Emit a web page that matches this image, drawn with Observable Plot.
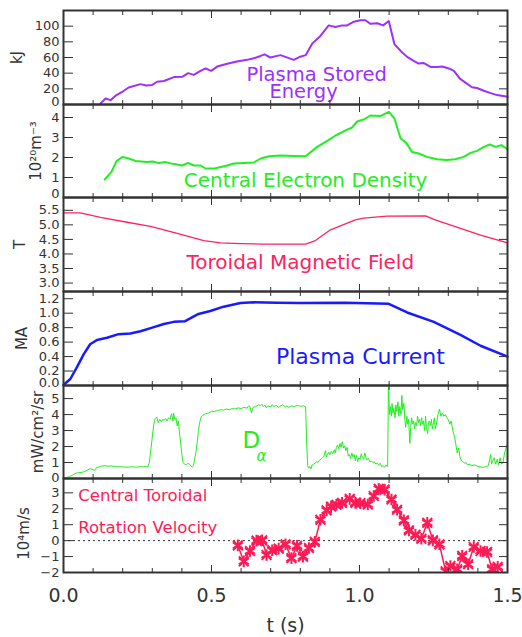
<!DOCTYPE html>
<html><head><meta charset="utf-8">
<script src="https://cdn.jsdelivr.net/npm/d3@7"></script>
<script src="https://cdn.jsdelivr.net/npm/@observablehq/plot@0.6"></script>
<style>
body{margin:0;background:#fff;}
#chart{position:relative;width:522px;height:637px;font-family:"DejaVu Sans",sans-serif;}
#chart svg{position:absolute;left:0;overflow:visible;}
</style></head><body><div id="chart"></div>
<script>
// ---- data (t in s, value) ----
const energy = [[0.123,0.5],[0.142,7.6],[0.159,5.6],[0.179,12],[0.198,16],[0.22,21.7],[0.26,26],[0.28,24.2],[0.30,25],[0.316,29],[0.339,30],[0.373,35],[0.401,35.3],[0.421,40],[0.44,37.8],[0.463,43],[0.48,46],[0.499,43],[0.519,48.4],[0.553,52],[0.586,55],[0.62,57],[0.643,59],[0.666,62],[0.679,64],[0.699,60],[0.733,63],[0.778,57],[0.80,61],[0.818,63],[0.84,77.7],[0.868,87.5],[0.896,101],[0.919,99],[0.941,101],[0.958,101],[0.981,105.7],[1.003,107.5],[1.02,107.5],[1.037,103],[1.06,103.7],[1.08,101],[1.099,106.6],[1.118,77],[1.139,68.4],[1.161,60.8],[1.183,55.7],[1.20,52.2],[1.216,53],[1.24,48],[1.263,48],[1.279,48.4],[1.302,46],[1.319,43],[1.339,33],[1.358,28],[1.38,22],[1.397,21],[1.42,17.5],[1.443,14.5],[1.465,12],[1.5,9.8]];
const density = [[0.139,0.9],[0.162,1.28],[0.179,1.82],[0.20,2.03],[0.22,1.95],[0.243,1.83],[0.283,1.78],[0.30,1.8],[0.322,1.73],[0.345,1.77],[0.373,1.67],[0.401,1.6],[0.421,1.73],[0.44,1.6],[0.463,1.6],[0.48,1.45],[0.51,1.45],[0.553,1.6],[0.575,1.7],[0.609,1.72],[0.643,1.75],[0.666,1.95],[0.694,2.06],[0.733,2.1],[0.778,2.08],[0.818,2.06],[0.857,2.53],[0.891,2.83],[0.919,3.1],[0.953,3.36],[0.975,3.5],[0.992,3.8],[1.014,3.9],[1.037,4.1],[1.07,4.07],[1.099,4.28],[1.118,3.95],[1.139,2.95],[1.158,2.73],[1.178,2.27],[1.20,2.2],[1.228,2.03],[1.262,1.91],[1.295,1.87],[1.323,1.91],[1.352,2.03],[1.375,2.23],[1.397,2.33],[1.42,2.53],[1.44,2.65],[1.46,2.53],[1.479,2.62],[1.5,2.42]];
const field = [[0,5.41],[0.057,5.41],[0.125,5.26],[0.215,5.09],[0.294,4.95],[0.384,4.71],[0.474,4.46],[0.53,4.38],[0.598,4.355],[0.666,4.34],[0.818,4.34],[0.851,4.46],[0.902,4.83],[0.986,5.17],[1.014,5.23],[1.093,5.30],[1.223,5.31],[1.251,5.19],[1.341,4.88],[1.409,4.65],[1.5,4.38]];
const current = [[0,0.007],[0.023,0.09],[0.045,0.25],[0.068,0.43],[0.09,0.57],[0.113,0.63],[0.147,0.66],[0.186,0.71],[0.226,0.72],[0.26,0.75],[0.30,0.80],[0.339,0.85],[0.373,0.88],[0.411,0.89],[0.456,0.99],[0.496,1.03],[0.541,1.09],[0.598,1.14],[0.643,1.15],[0.72,1.145],[0.8,1.14],[0.95,1.145],[1.099,1.13],[1.161,1.01],[1.251,0.88],[1.341,0.70],[1.409,0.55],[1.5,0.40]];
const dalpha = [[0,0.06],[0.01,0.05],[0.02,0.12],[0.03,0.2],[0.04,0.32],[0.05,0.36],[0.06,0.38],[0.07,0.42],[0.08,0.52],[0.09,0.62],[0.10,0.55],[0.105,0.5],[0.11,0.65],[0.12,0.72],[0.13,0.78],[0.14,0.8],[0.15,0.77],[0.16,0.79],[0.17,0.75],[0.18,0.73],[0.19,0.74],[0.20,0.72],[0.21,0.72],[0.22,0.71],[0.23,0.73],[0.24,0.72],[0.25,0.72],[0.26,0.74],[0.27,0.73],[0.28,0.75],[0.285,0.72],
[0.29,1.0],[0.295,1.8],[0.30,2.6],[0.305,3.4],[0.31,3.75],[0.315,3.85],[0.32,3.5],[0.325,3.7],[0.33,3.55],[0.335,3.7],[0.34,3.65],[0.345,3.75],[0.35,3.6],[0.355,3.8],[0.36,3.7],[0.365,4.05],[0.37,3.6],[0.372,4.1],[0.376,3.7],[0.38,3.8],[0.384,3.3],[0.388,3.6],[0.392,2.8],[0.396,2.2],[0.40,1.5],[0.404,1.0],[0.41,0.88],[0.415,0.85],[0.42,0.95],[0.425,0.9],[0.43,0.8],[0.435,0.7],[0.438,0.75],[0.442,1.1],[0.447,1.6],[0.452,2.3],[0.456,3.0],[0.46,3.5],[0.465,3.85],[0.47,3.95],[0.48,4.05],[0.49,4.1],[0.50,4.2],[0.51,4.2],[0.52,4.25],[0.53,4.3],[0.54,4.28],[0.55,4.35],[0.56,4.3],[0.57,4.38],[0.58,4.35],[0.59,4.42],[0.60,4.38],[0.61,4.45],[0.62,4.4],[0.625,4.55],[0.63,4.5],[0.635,4.1],[0.64,4.45],[0.65,4.5],[0.66,4.62],[0.665,4.55],[0.67,4.65],[0.675,4.5],[0.68,4.6],[0.685,4.42],[0.69,4.55],[0.70,4.48],[0.705,4.62],[0.71,4.5],[0.72,4.58],[0.725,4.45],[0.73,4.52],[0.74,4.6],[0.75,4.48],[0.755,4.55],[0.76,4.45],[0.77,4.55],[0.78,4.5],[0.79,4.58],[0.80,4.52],[0.81,4.55],[0.818,4.48],
[0.822,2.0],[0.825,0.8],[0.828,0.65],[0.832,0.75],[0.836,0.6],[0.84,0.85],[0.845,0.9],[0.85,0.95],[0.855,1.05],[0.86,1.0],[0.865,1.15],[0.87,1.2],[0.875,1.3],[0.88,1.4],[0.885,1.75],[0.888,1.35],[0.892,1.5],[0.896,1.65],[0.90,1.5],[0.905,1.7],[0.91,1.55],[0.915,1.8],[0.918,1.6],[0.922,1.95],[0.926,2.1],[0.93,1.85],[0.934,2.2],[0.938,1.95],[0.942,2.3],[0.946,1.9],[0.95,2.05],[0.954,1.75],[0.958,1.95],[0.962,1.4],[0.966,1.5],[0.97,1.25],[0.974,1.6],[0.978,1.35],[0.982,1.5],[0.986,1.1],[0.99,1.45],[0.994,1.05],[0.998,1.3],[1.002,1.2],[1.006,1.55],[1.01,1.3],[1.014,1.2],[1.018,1.6],[1.022,1.3],[1.026,1.15],[1.03,1.25],[1.035,1.05],[1.04,1.1],[1.045,1.0],[1.05,1.05],[1.055,0.9],[1.06,0.95],[1.065,0.85],[1.07,0.95],[1.075,0.75],[1.08,0.8],[1.085,0.7],[1.09,0.85],[1.095,0.75],
[1.098,5.9],[1.10,4.6],[1.102,4.0],[1.105,4.5],[1.108,3.9],[1.11,4.7],[1.113,4.1],[1.116,4.4],[1.12,3.8],[1.123,4.6],[1.126,4.2],[1.13,4.8],[1.133,3.9],[1.136,4.5],[1.14,4.0],[1.143,5.2],[1.146,4.3],[1.15,4.7],[1.153,3.7],[1.156,3.2],[1.16,3.9],[1.163,3.4],[1.166,3.7],[1.17,2.2],[1.173,3.2],[1.176,3.8],[1.18,3.4],[1.183,3.6],[1.186,3.1],[1.19,3.5],[1.193,3.3],[1.196,3.9],[1.20,3.5],[1.203,3.7],[1.206,3.3],[1.21,3.8],[1.213,3.4],[1.216,3.6],[1.22,3.0],[1.223,3.9],[1.226,3.2],[1.23,2.8],[1.233,3.5],[1.236,3.6],[1.24,3.3],[1.243,3.7],[1.246,3.1],[1.25,3.5],[1.253,3.8],[1.256,3.1],[1.26,3.4],[1.265,4.0],[1.27,4.35],[1.275,3.9],[1.28,4.1],[1.285,3.9],[1.29,4.0],[1.295,3.8],[1.30,3.7],[1.305,3.4],[1.31,3.6],[1.315,3.0],[1.32,2.7],[1.325,2.2],[1.33,1.6],[1.335,1.9],[1.34,1.3],[1.345,1.1],[1.35,1.05],[1.355,0.95],[1.36,1.0],[1.365,0.85],[1.37,0.9],[1.38,0.8],[1.39,0.85],[1.40,0.75],[1.41,0.72],[1.42,0.7],[1.43,0.75],[1.435,0.8],[1.44,1.2],[1.443,1.5],[1.446,0.9],[1.45,1.1],[1.455,1.3],[1.46,0.9],[1.465,1.2],[1.47,0.85],[1.475,1.3],[1.48,0.9],[1.485,1.0],[1.49,1.6],[1.495,1.9],[1.50,2.2]];
const velocity = [[0.589,-0.3],[0.609,-1.3],[0.63,-0.65],[0.652,0.0],[0.671,0.02],[0.686,-0.9],[0.705,-0.6],[0.727,-0.5],[0.75,-0.23],[0.77,-1.1],[0.789,-0.33],[0.809,-1.0],[0.829,-0.46],[0.849,-0.08],[0.868,1.31],[0.889,1.9],[0.904,2.14],[0.922,2.25],[0.941,2.37],[0.967,2.62],[0.986,2.37],[1.003,2.35],[1.028,2.27],[1.048,2.8],[1.065,3.25],[1.085,3.2],[1.108,2.58],[1.127,1.94],[1.15,1.27],[1.167,0.64],[1.189,0.37],[1.209,0.12],[1.229,1.12],[1.248,0.02],[1.27,-0.23],[1.291,-1.92],[1.307,-1.59],[1.33,-1.8],[1.347,-0.96],[1.367,-1.48],[1.386,-0.4],[1.409,-0.65],[1.431,-0.71],[1.448,-1.8],[1.467,-1.65]];

const energyTicks = [0,20,40,60,80,100];
const densityTicks = [0,1,2,3,4];
const fieldTicks = [3.0,3.5,4.0,4.5,5.0,5.5];
const currentTicks = [0,0.2,0.4,0.6,0.8,1.0,1.2];
const dalphaTicks = [0,1,2,3,4,5];
const velocityTicks = [-2,-1,0,1,2,3];
const xMajor = [0,0.5,1.0,1.5];
const xMinor = [0.1,0.2,0.3,0.4,0.6,0.7,0.8,0.9,1.1,1.2,1.3,1.4];

const FONT = "DejaVu Sans, sans-serif";
const AX = "#333";
const chart = document.getElementById("chart");

function panel({top, height, yDomain, yTicks, yFmt, ylabel, ylabelDx, ylabelDy = 0, ylabelSize = 15, lowShift = 0, marks, last = false}) {
  const mt = 10, mb = last ? 65 : 10;
  const extra = [];
  if (last) {
    extra.push(Plot.axisX({ticks: xMajor, anchor: "bottom", tickSize: 0, tickPadding: 16, tickFormat: d3.format(".1f"), fontSize: 19, fill: AX, label: null}));
    extra.push(Plot.text(["t (s)"], {frameAnchor: "bottom", dy: 59, lineAnchor: "bottom", textAnchor: "middle", fontSize: 19, fill: AX}));
  }
  const p = Plot.plot({
    width: 522, height: height + mt + mb,
    marginLeft: 63, marginRight: 15, marginTop: mt, marginBottom: mb,
    style: {fontFamily: FONT, background: "transparent", overflow: "visible", maxWidth: "none"},
    x: {domain: [0, 1.5]},
    y: {domain: yDomain},
    marks: [
      ...marks,
      Plot.axisY({ticks: yTicks.slice(1), anchor: "left", tickSize: 0, tickPadding: 4, tickFormat: yFmt, fontSize: 13, fill: AX, label: null}),
      Plot.axisY({ticks: yTicks.slice(0, 1), anchor: "left", tickSize: 0, tickPadding: 4, dy: -lowShift, tickFormat: yFmt, fontSize: 13, fill: AX, label: null}),
      Plot.axisY({ticks: yTicks, anchor: "left", tickSize: 10, dx: 10, fill: "none", stroke: AX, label: null}),
      Plot.axisY({ticks: yTicks, anchor: "right", tickSize: 9, dx: -9, fill: "none", stroke: AX, label: null}),
      Plot.axisX({ticks: xMinor, anchor: "bottom", tickSize: 4, dy: -4, fill: "none", stroke: AX, label: null}),
      Plot.axisX({ticks: xMinor, anchor: "top", tickSize: 4, dy: 4, fill: "none", stroke: AX, label: null}),
      Plot.axisX({ticks: xMajor, anchor: "bottom", tickSize: 7, dy: -7, fill: "none", stroke: AX, label: null}),
      Plot.axisX({ticks: xMajor, anchor: "top", tickSize: 7, dy: 7, fill: "none", stroke: AX, label: null}),
      Plot.frame({stroke: AX, strokeWidth: 2}),
      Plot.text([ylabel], {frameAnchor: "left", rotate: -90, dx: ylabelDx, dy: ylabelDy, lineAnchor: "bottom", textAnchor: "middle", fontSize: ylabelSize, fill: AX}),
      ...extra
    ]
  });
  p.style.top = (top - mt) + "px";
  chart.append(p);
}

const cE = "#9b30ff", cG = "#22ee22", cR = "#ff2260", cB = "#1a1aff", cV = "#ff1a55";

panel({top: 10, height: 94, yDomain: [0, 120], yTicks: energyTicks, yFmt: d3.format("d"), ylabel: "kJ", ylabelDx: -42, lowShift: 3,
  marks: [
    Plot.line(energy, {x: d => d[0], y: d => d[1], stroke: cE, strokeWidth: 2}),
    Plot.text(["Plasma Stored"], {x: 0.855, y: 29.5, lineAnchor: "bottom", fontSize: 19.5, fill: cE}),
    Plot.text(["Energy"], {x: 0.811, y: 8.5, lineAnchor: "bottom", fontSize: 19.5, fill: cE})
  ]});

panel({top: 104, height: 93, yDomain: [0, 4.65], yTicks: densityTicks, yFmt: d3.format("d"), ylabel: "10²⁰m⁻³", ylabelDx: -23, lowShift: 4,
  marks: [
    Plot.line(density, {x: d => d[0], y: d => d[1], stroke: cG, strokeWidth: 2}),
    Plot.text(["Central Electron Density"], {x: 0.818, y: 0.52, lineAnchor: "bottom", fontSize: 20, fill: cG})
  ]});

panel({top: 197, height: 94, yDomain: [2.71, 5.94], yTicks: fieldTicks, yFmt: d3.format(".1f"), ylabel: "T", ylabelDx: -39,
  marks: [
    Plot.line(field, {x: d => d[0], y: d => d[1], stroke: cR, strokeWidth: 1.3}),
    Plot.text(["Toroidal Magnetic Field"], {x: 0.80, y: 3.49, lineAnchor: "bottom", fontSize: 20, fill: cR})
  ]});

panel({top: 291, height: 94, yDomain: [0, 1.3], yTicks: currentTicks, yFmt: d3.format(".1f"), ylabel: "MA", ylabelDx: -37, lowShift: 3,
  marks: [
    Plot.line(current, {x: d => d[0], y: d => d[1], stroke: cB, strokeWidth: 2.5}),
    Plot.text(["Plasma Current"], {x: 1.003, y: 0.30, lineAnchor: "bottom", fontSize: 22, fill: cB})
  ]});

panel({top: 385, height: 93, yDomain: [0, 5.82], yTicks: dalphaTicks, yFmt: d3.format("d"), ylabel: "mW/cm²/sr", ylabelDx: -21, ylabelSize: 15, lowShift: 1,
  marks: [
    Plot.line(dalpha, {x: d => d[0], y: d => d[1], stroke: cG, strokeWidth: 1, clip: true}),
    Plot.text(["D"], {x: 0.605, y: 1.92, lineAnchor: "bottom", textAnchor: "start", fontSize: 23, fill: cG}),
    Plot.text(["α"], {x: 0.652, y: 1.11, lineAnchor: "bottom", textAnchor: "start", fontSize: 15, fontStyle: "italic", fill: cG})
  ]});

panel({top: 478, height: 94, yDomain: [-2, 3.9], yTicks: velocityTicks, yFmt: d3.format("d"), ylabel: "10⁴m/s", ylabelDx: -35, ylabelDy: 8, last: true,
  marks: [
    Plot.ruleY([0], {stroke: AX, strokeWidth: 1, strokeDasharray: "2,3"}),
    Plot.line(velocity, {x: d => d[0], y: d => d[1], stroke: cV, strokeWidth: 1.5, clip: true}),
    Plot.dot(velocity, {x: d => d[0], y: d => d[1], symbol: "asterisk", r: 5.5, stroke: cV, strokeWidth: 2, clip: true}),
    Plot.dot(velocity, {x: d => d[0], y: d => d[1], symbol: "times", r: 4.5, stroke: cV, strokeWidth: 2, clip: true}),
    Plot.text(["Central Toroidal"], {x: 0.05, y: 2.48, lineAnchor: "bottom", textAnchor: "start", fontSize: 16.5, fill: cV}),
    Plot.text(["Rotation Velocity"], {x: 0.05, y: 0.46, lineAnchor: "bottom", textAnchor: "start", fontSize: 16.5, fill: cV})
  ]});
</script></body></html>
